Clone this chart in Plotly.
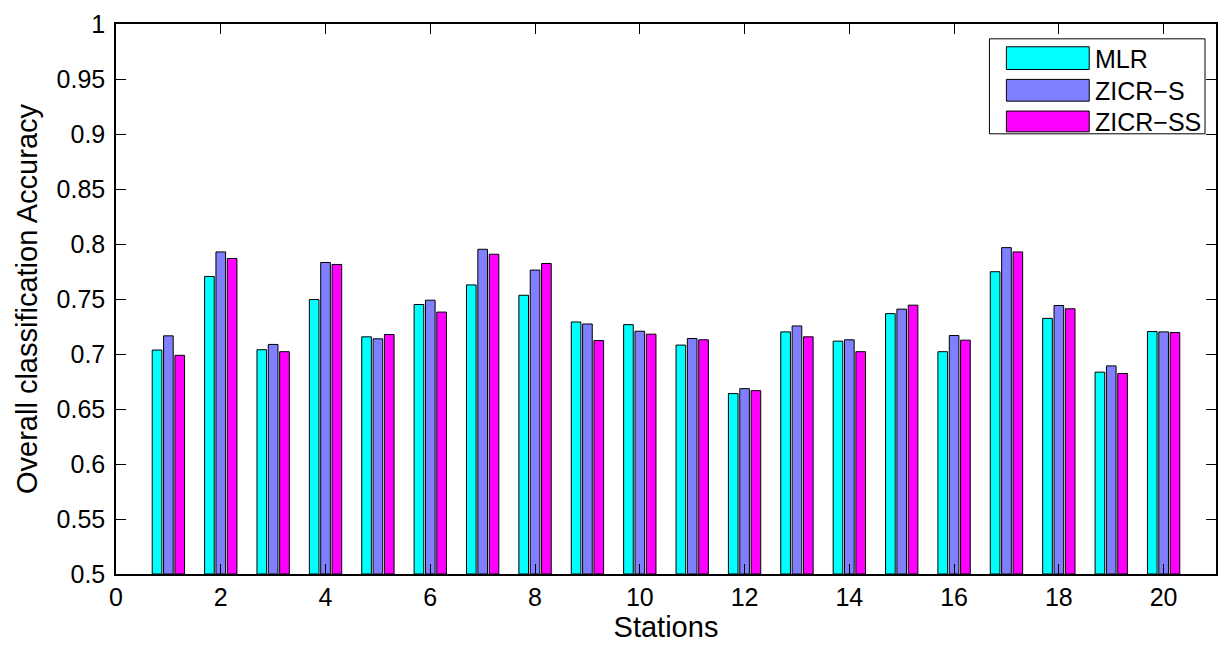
import plotly.graph_objects as go

stations = list(range(1, 21))
mlr = [0.7036, 0.7705, 0.7039, 0.7495, 0.7156, 0.7450, 0.7628, 0.7534, 0.7291, 0.7267,
       0.7081, 0.6640, 0.7201, 0.7117, 0.7367, 0.7021, 0.7748, 0.7324, 0.6835, 0.7204]
zicr_s = [0.7165, 0.7928, 0.7087, 0.7832, 0.7138, 0.7489, 0.7952, 0.7763, 0.7273, 0.7207,
          0.7141, 0.6685, 0.7255, 0.7129, 0.7408, 0.7168, 0.7967, 0.7441, 0.6892, 0.7201]
zicr_ss = [0.6988, 0.7868, 0.7021, 0.7814, 0.7177, 0.7381, 0.7907, 0.7823, 0.7123, 0.7180,
           0.7129, 0.6667, 0.7156, 0.7021, 0.7444, 0.7126, 0.7928, 0.7411, 0.6823, 0.7195]
series_names = ["MLR", "ZICR\u2212S", "ZICR\u2212SS"]
series_colors = ["#00FFFF", "#8080FF", "#FF00FF"]
x_ticks = list(range(0, 21, 2))
y_ticks = [0.5, 0.55, 0.6, 0.65, 0.7, 0.75, 0.8, 0.85, 0.9, 0.95, 1.0]
y_tick_labels = ["0.5", "0.55", "0.6", "0.65", "0.7", "0.75", "0.8", "0.85", "0.9", "0.95", "1"]

FONT = "Liberation Sans, Arial, Helvetica, sans-serif"
W, H = 1228, 645
L, R, T, B = 116, 1218, 18, 574

fig = go.Figure()
for name, vals, col in zip(series_names, [mlr, zicr_s, zicr_ss], series_colors):
    fig.add_trace(go.Bar(x=stations, y=[v - 0.5 for v in vals], base=0.5, name=name,
                         marker=dict(color=col, line=dict(color="black", width=1)),
                         showlegend=False))

def px(x):
    return (x - L) / (R - L)

def py(y):
    return (B - y) / (B - T)

shapes = []
annotations = []
# legend box
shapes.append(dict(type="rect", xref="paper", yref="paper",
                   x0=px(991), x1=px(1207), y0=py(129), y1=py(33),
                   line=dict(color="black", width=1), fillcolor="white", layer="above"))
rows = [(41, 64), (74, 96), (106, 127)]
for (t, b), name, col in zip(rows, series_names, series_colors):
    shapes.append(dict(type="rect", xref="paper", yref="paper",
                       x0=px(1008), x1=px(1091), y0=py(b), y1=py(t),
                       line=dict(color="black", width=1), fillcolor=col, layer="above"))
    annotations.append(dict(xref="paper", yref="paper", x=px(1095), y=py((t + b) / 2 + 1),
                            text=name, showarrow=False, xanchor="left", yanchor="middle",
                            font=dict(family=FONT, size=25, color="black")))

fig.update_layout(
    width=W, height=H,
    margin=dict(l=L, r=W - R, t=T, b=H - B),
    paper_bgcolor="white", plot_bgcolor="white",
    barmode="group", bargap=0.35, bargroupgap=0.15,
    shapes=shapes, annotations=annotations,
    font=dict(family=FONT, color="black"),
    showlegend=False,
)
fig.update_xaxes(range=[0, 21], tickvals=x_ticks, ticks="inside", ticklen=10, tickwidth=1,
                 tickcolor="black", showline=True, linecolor="black", linewidth=1.5,
                 mirror="allticks", showgrid=False, zeroline=False,
                 tickfont=dict(family=FONT, size=25, color="black"),
                 title=dict(text="Stations", font=dict(family=FONT, size=29, color="black"),
                            standoff=2))
fig.update_yaxes(range=[0.5, 1.0], tickvals=y_ticks, ticktext=y_tick_labels, ticks="inside",
                 ticklen=10, tickwidth=1, tickcolor="black", showline=True, linecolor="black",
                 linewidth=1.5, mirror="allticks", showgrid=False, zeroline=False,
                 ticklabelstandoff=4,
                 tickfont=dict(family=FONT, size=25, color="black"),
                 title=dict(text="Overall classification Accuracy",
                            font=dict(family=FONT, size=29, color="black"), standoff=10))

fig.write_html("out.html")
